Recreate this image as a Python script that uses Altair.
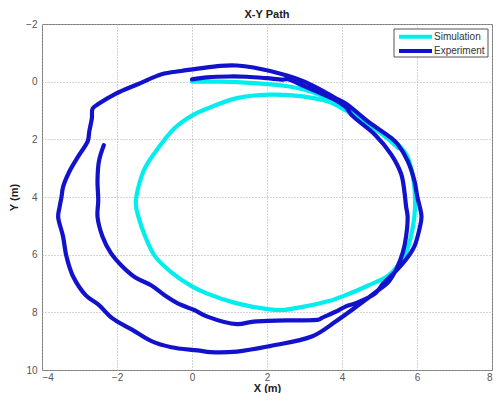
import altair as alt
import pandas as pd

# Simulation path (X, Y in metres)
sim_x = [0.0, 0.76, 1.64, 2.51, 3.0, 3.39, 3.8, 4.09, 4.44, 5.05, 5.40, 5.71, 5.84, 5.93, 5.95,
         5.93, 5.84, 5.71, 5.49, 5.23, 4.70, 4.09, 3.65, 2.95, 2.4, 2.07, 1.20, 0.41, 0.0,
         -0.55, -0.99, -1.25, -1.43, -1.5, -1.43, -1.25, -0.90, -0.46, 0.02, 0.41, 1.20,
         2.07, 2.95, 3.65, 4.09, 4.6, 5.1, 5.5]
sim_y = [0.0, 0.0, 0.05, 0.15, 0.28, 0.45, 0.68, 0.93, 1.25, 1.73, 2.07, 2.52, 2.98, 3.66, 4.2,
         4.68, 5.36, 5.93, 6.39, 6.73, 7.07, 7.41, 7.61, 7.81, 7.92, 7.9, 7.69, 7.35, 7.1,
         6.61, 6.05, 5.36, 4.68, 4.22, 3.66, 2.98, 2.30, 1.61, 1.16, 0.93, 0.57,
         0.45, 0.51, 0.70, 0.99, 1.4, 1.85, 2.3]

# Experiment path (X, Y in metres)
exp_x = [0.0, 0.41, 1.0, 1.46, 2.0, 2.43, 2.55, 2.86, 3.39, 3.8, 4.1, 4.26, 4.88, 5.31, 5.58,
         5.66, 5.71, 5.75, 5.71, 5.62, 5.45, 5.23, 5.0, 4.44, 3.83, 3.21, 2.07, 1.20, 0.5,
         0.15, -0.55, -1.08, -1.60, -2.13, -2.48, -2.83, -3.18, -3.35, -3.44, -3.57, -3.53,
         -3.48, -3.44, -3.26, -3.0, -2.78, -2.74, -2.67, -2.65, -2.48, -2.04, -1.43, -0.81,
         -0.29, 0.15, 0.76, 1.2, 1.64, 2.51, 3.0, 3.39, 3.8, 4.09, 4.70, 5.31, 5.49, 5.75,
         5.93, 6.01, 6.12, 6.06, 5.93, 5.71, 5.40, 5.1, 4.88, 4.35, 4.09, 3.83, 3.45, 3.39,
         2.51, 1.64, 1.20, 0.41, 0.06, -0.38, -0.73, -1.08, -1.51, -1.87, -2.17, -2.39,
         -2.52, -2.50, -2.52, -2.48, -2.35]
exp_y = [-0.08, -0.15, -0.18, -0.17, -0.12, -0.07, -0.09, 0.08, 0.38, 0.62, 0.88, 1.16, 1.84,
         2.52, 3.21, 3.77, 4.34, 4.68, 5.36, 5.93, 6.50, 6.96, 7.2, 7.75, 8.32, 8.83, 9.17,
         9.36, 9.38, 9.32, 9.21, 9.0, 8.60, 8.20, 7.75, 7.41, 6.73, 6.05, 5.36, 4.68, 4.34,
         4.0, 3.66, 3.09, 2.52, 2.07, 1.73, 1.27, 0.93, 0.76, 0.42, 0.08, -0.26, -0.37,
         -0.45, -0.55, -0.56, -0.49, -0.22, 0.0, 0.25, 0.55, 0.75, 1.39, 1.95, 2.18, 2.75,
         3.43, 4.0, 4.68, 5.14, 5.71, 6.16, 6.62, 7.0, 7.35, 7.69, 7.80, 7.98, 8.20, 8.25,
         8.28, 8.32, 8.41, 8.15, 7.92, 7.69, 7.41, 7.07, 6.79, 6.39, 5.93, 5.36, 4.68, 4.11,
         3.43, 2.75, 2.20]

x_ticks = [-4, -2, 0, 2, 4, 6, 8]
y_ticks = [-2, 0, 2, 4, 6, 8, 10]
series = ["Simulation", "Experiment"]
colors = ["#00eeee", "#1212cc"]

sim_df = pd.DataFrame({"x": sim_x, "y": sim_y, "i": range(len(sim_x))})
exp_df = pd.DataFrame({"x": exp_x, "y": exp_y, "i": range(len(exp_x))})

xs = alt.Scale(domain=[-4, 8], nice=False, zero=False)
ys = alt.Scale(domain=[-2, 10], nice=False, zero=False, reverse=True)

xax = alt.Axis(values=x_ticks, title="X (m)", grid=True, ticks=False, domain=False,
               labelPadding=2, titlePadding=0)
yax = alt.Axis(values=y_ticks, title="Y (m)", grid=True, ticks=False, domain=False,
               labelPadding=5, titlePadding=6)

W, H = 450, 346


def path(df, color):
    return alt.Chart(df).mark_line(color=color, strokeWidth=4.2, strokeJoin="round",
                                   strokeCap="round", interpolate="catmull-rom").encode(
        x=alt.X("x:Q", scale=xs, axis=xax),
        y=alt.Y("y:Q", scale=ys, axis=yax),
        order="i:Q",
    )


one = pd.DataFrame({"a": [0]})
bx0 = W - 98
box = alt.Chart(one).mark_rect(fill="white", stroke="#555", strokeWidth=1).encode(
    x=alt.value(bx0), x2=alt.value(W - 4), y=alt.value(5), y2=alt.value(33))
legend_layers = [box]
for k, (name, col) in enumerate(zip(series, colors)):
    yy = 12.7 + 14.3 * k
    legend_layers.append(alt.Chart(one).mark_rule(color=col, strokeWidth=4).encode(
        x=alt.value(bx0 + 5), x2=alt.value(bx0 + 38), y=alt.value(yy)))
    legend_layers.append(alt.Chart(pd.DataFrame({"t": [name]})).mark_text(
        align="left", baseline="middle", fontSize=10, color="#333",
        font="Liberation Sans").encode(
        x=alt.value(bx0 + 40), y=alt.value(yy), text="t:N"))

chart = alt.layer(path(sim_df, colors[0]), path(exp_df, colors[1]), *legend_layers).properties(
    width=W, height=H,
    title=alt.TitleParams("X-Y Path", fontSize=11, fontWeight="bold", color="#222",
                          font="Liberation Sans", offset=-1, frame="group"),
    autosize=alt.AutoSizeParams(type="none"),
    padding={"left": 34, "top": 16, "right": 2, "bottom": 23},
).configure_view(stroke="#777", strokeWidth=1).configure_axis(
    gridColor="#aaa", gridDash=[1, 2], gridWidth=1,
    labelFont="Liberation Sans", labelFontSize=10, labelColor="#555",
    titleFont="Liberation Sans", titleFontSize=11, titleFontWeight="bold", titleColor="#222",
)

chart.save("out.html", embed_options={"renderer": "svg", "actions": False})
